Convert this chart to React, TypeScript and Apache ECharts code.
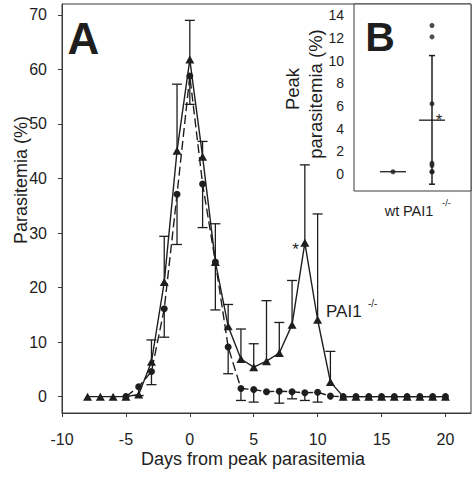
import React, { useEffect, useRef } from "react";
import * as echarts from "echarts";

// ---- Panel A data ----
const paiDays = [-8, -7, -6, -5, -4, -3, -2, -1, 0, 1, 2, 3, 4, 5, 6, 7, 8, 9, 10, 11, 12, 13, 14, 15, 16, 17, 18, 19, 20];
const paiValues = [0, 0, 0, 0, 0.4, 6.4, 21.0, 45.1, 61.8, 44.0, 24.7, 12.9, 6.9, 5.4, 6.5, 8.0, 13.2, 28.2, 14.1, 2.7, 0, 0, 0, 0, 0, 0, 0, 0, 0];
const wtDays = [-5, -4, -3, -2, -1, 0, 1, 2, 3, 4, 5, 6, 7, 8, 9, 10, 11, 12, 13, 14, 15, 16, 17, 18, 19, 20];
const wtValues = [0, 1.8, 4.6, 16.1, 37.1, 58.8, 39.0, 24.7, 9.1, 1.5, 1.3, 0.9, 1.0, 0.9, 0.7, 0.8, 0.1, 0, 0, 0, 0, 0, 0, 0, 0, 0];
const paiErrDays = [-3, -2, -1, 0, 1, 2, 3, 4, 5, 6, 7, 8, 9, 10, 11];
const paiUpper = [10.4, 29.4, 57.3, 69.0, 46.8, 31.7, 16.9, 12.4, 9.7, 17.6, 13.6, 21.3, 42.5, 33.5, 8.3];
const wtErrDays = [-4, -3, -2, -1, 0, 1, 2, 3, 4, 5, 7, 8, 9, 10];
const wtLower = [0.2, 2.2, 10.9, 27.9, 53.6, 31.0, 15.9, 4.2, -0.7, -1.0, -1.2, -0.4, -0.7, -1.0];
const xTicks = [-10, -5, 0, 5, 10, 15, 20];
const yTicks = [0, 10, 20, 30, 40, 50, 60, 70];

// ---- Panel B data ----
const insetGroupPos = [1, 2]; // wt, PAI1 -/-
const wtPeak = [0.2];
const paiPeak = [13.1, 12.1, 6.2, 0.95, 0.75, 0.2, 0.2];
const peakMeans = [0.2, 4.75];
const paiPeakRange = [-0.9, 10.45];
const insetYTicks = [0, 2, 4, 6, 8, 10, 12, 14];

const INK = "#1e1e1e";
const FRAME = "#3a3a3a";
const FONT = "'Liberation Sans', Arial, Helvetica, sans-serif";

function valueAt(days: number[], vals: number[], d: number) {
  return vals[days.indexOf(d)];
}

export default function App() {
  const ref = useRef<HTMLDivElement>(null);
  useEffect(() => {
    if (!ref.current) return;
    const chart = echarts.init(ref.current, null, { renderer: "svg" });

    const errOneSide = (capHalf: number) => (params: any, api: any) => {
      const x = api.value(0);
      const a = api.coord([x, api.value(1)]);
      const b = api.coord([x, api.value(2)]);
      const st = { stroke: INK, lineWidth: 1.3 };
      return {
        type: "group",
        children: [
          { type: "line", shape: { x1: a[0], y1: a[1], x2: b[0], y2: b[1] }, style: st },
          { type: "line", shape: { x1: b[0] - capHalf, y1: b[1], x2: b[0] + capHalf, y2: b[1] }, style: st },
        ],
      };
    };
    const errBoth = (capHalf: number) => (params: any, api: any) => {
      const x = api.value(0);
      const a = api.coord([x, api.value(1)]);
      const b = api.coord([x, api.value(2)]);
      const st = { stroke: INK, lineWidth: 1.5 };
      return {
        type: "group",
        children: [
          { type: "line", shape: { x1: a[0], y1: a[1], x2: b[0], y2: b[1] }, style: st },
          { type: "line", shape: { x1: a[0] - capHalf, y1: a[1], x2: a[0] + capHalf, y2: a[1] }, style: st },
          { type: "line", shape: { x1: b[0] - capHalf, y1: b[1], x2: b[0] + capHalf, y2: b[1] }, style: st },
        ],
      };
    };
    const meanLine = (half: number) => (params: any, api: any) => {
      const p = api.coord([api.value(0), api.value(1)]);
      return {
        type: "line",
        shape: { x1: p[0] - half, y1: p[1], x2: p[0] + half, y2: p[1] },
        style: { stroke: INK, lineWidth: 1.3 },
      };
    };

    const txt = (text: string, x: number, y: number, size: number, opts: any = {}) => ({
      type: "text",
      x,
      y,
      rotation: opts.rotation || 0,
      z: 100,
      style: {
        text,
        fill: INK,
        font: `${opts.bold ? "bold " : ""}${size}px ${FONT}`,
        fontSize: size,
        fontFamily: FONT,
        fontWeight: opts.bold ? "bold" : "normal",
        align: opts.align || "center",
        verticalAlign: "middle",
        textAlign: opts.align || "center",
        textVerticalAlign: "middle",
      },
    });

    chart.setOption({
      animation: false,
      backgroundColor: "#fff",
      grid: [
        { left: 62, top: 4, width: 409, height: 409, show: true, borderColor: FRAME, borderWidth: 1, backgroundColor: "transparent" },
        { left: 354, top: 4, width: 117, height: 187, show: true, borderColor: FRAME, borderWidth: 1, backgroundColor: "#fff" },
      ],
      xAxis: [
        {
          gridIndex: 0,
          type: "value",
          min: -10,
          max: 22,
          splitLine: { show: false },
          axisLine: { show: true, onZero: false, lineStyle: { color: FRAME, width: 1 } },
          axisTick: { show: true, inside: false, length: 4, customValues: xTicks, lineStyle: { color: FRAME } },
          axisLabel: { customValues: xTicks, fontSize: 16, fontFamily: FONT, color: INK, margin: 18 },
        },
        {
          gridIndex: 1,
          type: "value",
          min: 0,
          max: 3,
          show: false,
          splitLine: { show: false },
        },
      ],
      yAxis: [
        {
          gridIndex: 0,
          type: "value",
          min: -3,
          max: 72,
          splitLine: { show: false },
          axisLine: { show: true, onZero: false, lineStyle: { color: FRAME, width: 1 } },
          axisTick: { show: true, inside: false, length: 4, customValues: yTicks, lineStyle: { color: FRAME } },
          axisLabel: { customValues: yTicks, fontSize: 16, fontFamily: FONT, color: INK, margin: 15 },
        },
        {
          gridIndex: 1,
          type: "value",
          min: -1.5,
          max: 15,
          splitLine: { show: false },
          axisLine: { show: false, onZero: false },
          axisTick: { show: false, customValues: insetYTicks },
          axisLabel: { customValues: insetYTicks, fontSize: 14, fontFamily: FONT, color: INK, margin: 10 },
        },
      ],
      series: [
        {
          type: "custom",
          name: "PAI1 err",
          xAxisIndex: 0,
          yAxisIndex: 0,
          renderItem: errOneSide(5),
          data: paiErrDays.map((d, i) => [d, valueAt(paiDays, paiValues, d), paiUpper[i]]),
          z: 1,
        },
        {
          type: "custom",
          name: "wt err",
          xAxisIndex: 0,
          yAxisIndex: 0,
          renderItem: errOneSide(5),
          data: wtErrDays.map((d, i) => [d, valueAt(wtDays, wtValues, d), wtLower[i]]),
          z: 1,
        },
        {
          type: "line",
          name: "PAI1-/-",
          xAxisIndex: 0,
          yAxisIndex: 0,
          data: paiDays.map((d, i) => [d, paiValues[i]]),
          symbol: "triangle",
          symbolSize: [9, 8],
          showAllSymbol: true,
          lineStyle: { color: INK, width: 1.4 },
          itemStyle: { color: INK },
          z: 2,
        },
        {
          type: "line",
          name: "wt",
          xAxisIndex: 0,
          yAxisIndex: 0,
          data: wtDays.map((d, i) => [d, wtValues[i]]),
          symbol: "circle",
          symbolSize: 7,
          showAllSymbol: true,
          lineStyle: { color: INK, width: 1.4, type: [9, 4] },
          itemStyle: { color: INK },
          z: 3,
        },
        {
          type: "custom",
          name: "peak err",
          xAxisIndex: 1,
          yAxisIndex: 1,
          renderItem: errBoth(3),
          data: [[insetGroupPos[1], paiPeakRange[0], paiPeakRange[1]]],
          z: 4,
        },
        {
          type: "custom",
          name: "peak means",
          xAxisIndex: 1,
          yAxisIndex: 1,
          renderItem: meanLine(13),
          data: insetGroupPos.map((p, i) => [p, peakMeans[i]]),
          z: 4,
        },
        {
          type: "scatter",
          name: "wt peak",
          xAxisIndex: 1,
          yAxisIndex: 1,
          data: wtPeak.map((v) => [insetGroupPos[0], v]),
          symbolSize: 5,
          itemStyle: { color: INK },
          z: 5,
        },
        {
          type: "scatter",
          name: "PAI1 peak",
          xAxisIndex: 1,
          yAxisIndex: 1,
          data: paiPeak.map((v) => [insetGroupPos[1], v]),
          symbolSize: 5,
          itemStyle: { color: INK },
          z: 5,
        },
      ],
      graphic: [
        txt("A", 83.5, 38, 44, { bold: true }),
        txt("B", 380, 37, 41, { bold: true }),
        txt("Parasitemia (%)", 21, 180, 18, { rotation: Math.PI / 2 }),
        txt("Days from peak parasitemia", 253, 459, 18),
        txt("PAI1", 326, 311, 17, { align: "left" }),
        txt("-/-", 368, 303, 10, { align: "left" }),
        txt("*", 295.5, 249, 17),
        txt("Peak", 292, 89, 18.5, { rotation: Math.PI / 2 }),
        txt("parasitemia (%)", 315, 94, 18.5, { rotation: Math.PI / 2 }),
        txt("wt", 392, 211, 14.5),
        txt("PAI1", 403, 211, 14.5, { align: "left" }),
        txt("-/-", 442, 202, 9.5, { align: "left" }),
        txt("*", 439, 120, 16),
      ],
    });
    return () => chart.dispose();
  }, []);
  return <div ref={ref} style={{ position: "absolute", left: 0, top: 0, width: 475, height: 477 }} />;
}
